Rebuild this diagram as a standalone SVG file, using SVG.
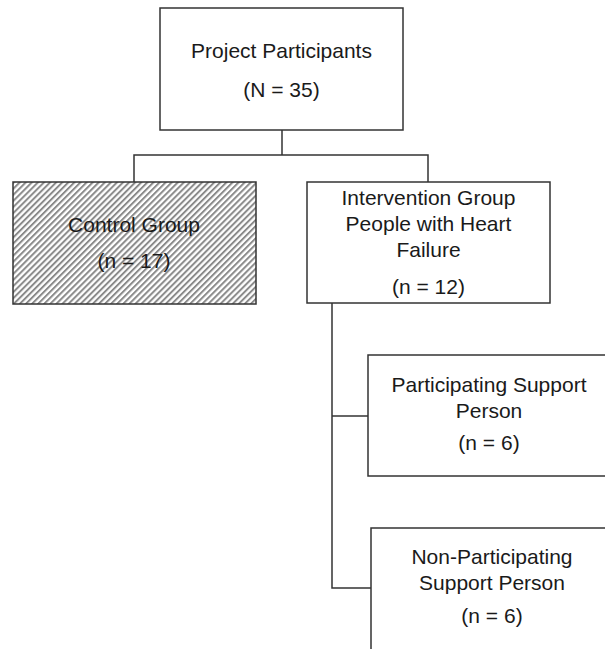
<svg xmlns="http://www.w3.org/2000/svg" width="605" height="649" viewBox="0 0 605 649">
  <defs>
    <pattern id="hatch" patternUnits="userSpaceOnUse" width="4.3" height="10" patternTransform="rotate(45)">
      <rect x="0" y="0" width="4.3" height="10" fill="#ffffff"/>
      <rect x="0" y="0" width="2" height="10" fill="#8a8a8a"/>
    </pattern>
    <style>
      .box { fill: #ffffff; stroke: #333333; stroke-width: 1.5; }
      .hatched { fill: url(#hatch); stroke: #333333; stroke-width: 1.5; }
      .link { fill: none; stroke: #333333; stroke-width: 1.5; }
      text { font-family: "Liberation Sans", Arial, sans-serif; font-size: 21px; fill: #1a1a1a; text-anchor: middle; }
    </style>
  </defs>

  <!-- connectors -->
  <g id="connectors">
    <polyline class="link" points="282,130 282,155"/>
    <polyline class="link" points="134,182 134,155 428,155 428,182"/>
    <polyline class="link" points="332,303 332,588 371,588"/>
    <polyline class="link" points="332,416 368,416"/>
  </g>

  <g id="project-participants">
    <rect class="box" x="160" y="8" width="243" height="122"/>
    <text x="281.5" y="58">Project Participants</text>
    <text x="281.5" y="97">(N = 35)</text>
  </g>

  <g id="control-group">
    <rect class="hatched" x="13" y="182" width="243" height="122"/>
    <text x="134" y="232">Control Group</text>
    <text x="134" y="268">(n = 17)</text>
  </g>

  <g id="intervention-group">
    <rect class="box" x="307" y="182" width="243" height="121"/>
    <text x="428.5" y="205">Intervention Group</text>
    <text x="428.5" y="231">People with Heart</text>
    <text x="428.5" y="257">Failure</text>
    <text x="428.5" y="294">(n = 12)</text>
  </g>

  <g id="participating-support">
    <rect class="box" x="368" y="355" width="243" height="121"/>
    <text x="489" y="392">Participating Support</text>
    <text x="489" y="418">Person</text>
    <text x="489" y="450">(n = 6)</text>
  </g>

  <g id="non-participating-support">
    <rect class="box" x="371" y="528" width="243" height="130"/>
    <text x="492" y="564">Non-Participating</text>
    <text x="492" y="590">Support Person</text>
    <text x="492" y="623">(n = 6)</text>
  </g>
</svg>
